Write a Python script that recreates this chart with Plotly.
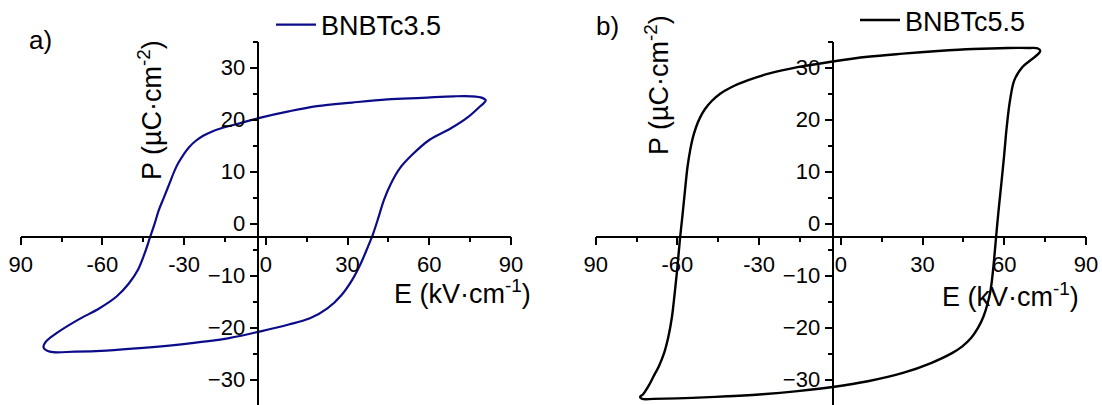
import plotly.graph_objects as go

# BNBTc3.5 hysteresis loop: (E in kV/cm, P in uC/cm^2), traced around the loop
e_35 = [80.7, 79.4, 75.5, 69, 57.4, 44.6, 31.7, 18.8, 8.4, -1.9, -9.6, -15.5, -19.9, -23,
        -25.8, -28.2, -30.2, -32, -33.5, -35.4, -37.3, -39.3, -40.8, -42.5, -44.5, -47,
        -50.3, -54.8, -61.2, -69, -76.7, -80.6, -81.6,
        -79.3, -70, -58.6, -45, -32.8, -13.5, -1.9, 8.4, 16.2, 22.6, 27.8, 31.7, 34.9,
        37.5, 39.4, 41.4, 43.3, 45.9, 49.1, 53.6, 60, 67.8, 74.2, 78.1, 80.7]
p_35 = [23.7, 24.2, 24.5, 24.5, 24.2, 23.9, 23.3, 22.6, 21.6, 20.4, 19.3, 18.5, 17.7, 16.9,
        15.9, 14.7, 13.3, 11.8, 10.2, 7.7, 5.2, 2.6, 0.06, -2.6, -5.7, -8.9,
        -11.5, -14, -16.3, -18.5, -21, -22.6, -23.8,
        -24.6, -24.6, -24.4, -23.9, -23.3, -22, -20.7, -19.4, -18.2, -16.3, -13.7, -10.8, -7.6,
        -4.4, -1.9, 1.3, 4.5, 7.7, 10.6, 13.2, 16.1, 18.3, 20.5, 22.3, 23.7]

# BNBTc5.5 hysteresis loop
e_55 = [73.2, 72.4, 69.2, 61.4, 48.5, 35.6, 22.8, 9.9, -3, -15.9, -26.2, -34, -40.4, -44.3,
        -47.4, -49.8, -51.7, -53.2, -54.4, -55.3, -56.3, -57.2, -58.2, -59.1, -60, -61, -62,
        -63.3, -64.9, -66.8, -68.8, -70.7, -72.6, -73.7,
        -72.9, -68.8, -54.6, -41.7, -28.8, -15.9, -3, 9.9, 22.8, 33.1, 40.8, 44.6, 47.8,
        50.4, 52.4, 53.9, 55, 56, 56.9, 57.8, 58.8, 59.9, 60.9, 62.1, 63.7, 66.6, 69.8, 72.4, 73.2]
p_55 = [33.2, 33.7, 33.8, 33.8, 33.6, 33.2, 32.7, 32.1, 31.2, 30.1, 28.9, 27.6, 26.2, 25,
        23.6, 22.1, 20.4, 18.5, 16.4, 14.2, 10.9, 6.5, 1.3, -3.1, -8.3, -13.4, -17.9,
        -21.7, -24.9, -27.4, -29.4, -31.3, -32.8, -33.3,
        -33.7, -33.7, -33.5, -33.2, -32.8, -32.2, -31.4, -30.3, -28.7, -26.8, -24.9, -23.6, -22,
        -20, -17.8, -15.3, -12.7, -8.3, -3.1, 2, 7.1, 12.9, 18.6, 23.7, 27.6, 30.1, 31.5, 32.6, 33.2]

x_tickvals = [-90, -60, -30, 0, 30, 60, 90]
x_ticktext = ["90", "-60", "-30", "0", "30", "60", "90"]
y_tickvals = [-30, -20, -10, 0, 10, 20, 30]

FONT = "Liberation Sans, Arial, sans-serif"
W, H = 1102, 405

fig = go.Figure()
fig.add_trace(go.Scatter(x=e_35, y=p_35, mode="lines", name="BNBTc3.5", showlegend=True,
                         line=dict(color="#0c0c8a", width=2.2, shape="spline", smoothing=1.0),
                         xaxis="x", yaxis="y", legend="legend"))
fig.add_trace(go.Scatter(x=e_55, y=p_55, mode="lines", name="BNBTc5.5", showlegend=True,
                         line=dict(color="#000000", width=2.4, shape="spline", smoothing=1.0),
                         xaxis="x2", yaxis="y2", legend="legend2"))


def xax(domain, ypos):
    return dict(domain=domain, range=[-90, 90], anchor="free", position=ypos,
                automargin=False,
                showline=True, linecolor="black", linewidth=1.5,
                ticks="outside", ticklen=8, tickwidth=1.5, tickcolor="black",
                tickvals=x_tickvals, ticktext=x_ticktext,
                tickfont=dict(family=FONT, size=22, color="black"),
                minor=dict(dtick=15, tick0=0, ticks="outside", ticklen=5, tickwidth=1.5,
                           tickcolor="black"),
                showgrid=False, zeroline=False)


def yax(xpos):
    return dict(domain=[0, 1 - 41.7 / H], range=[-34.87, 35], anchor="free", position=xpos,
                automargin=False,
                showline=True, linecolor="black", linewidth=1.5,
                ticks="outside", ticklen=8, tickwidth=1.5, tickcolor="black",
                tickvals=y_tickvals,
                tickfont=dict(family=FONT, size=22, color="black"),
                minor=dict(dtick=5, tick0=0, ticks="outside", ticklen=5, tickwidth=1.5,
                           tickcolor="black"),
                showgrid=False, zeroline=False)


def legend_box(x, y):
    return dict(x=x / W, y=1 - y / H, xanchor="left", yanchor="middle",
                bgcolor="rgba(0,0,0,0)", font=dict(family=FONT, size=27, color="black"),
                itemwidth=40)


xpos_axis = 1 - 236.5 / H
fig.update_layout(
    width=W, height=H,
    margin=dict(l=0, r=0, t=0, b=0, autoexpand=False),
    showlegend=True,
    paper_bgcolor="white", plot_bgcolor="rgba(0,0,0,0)",
    font=dict(family=FONT, color="black"),
    xaxis=xax([20.7 / W, 511 / W], xpos_axis),
    yaxis=yax(258.3 / W),
    xaxis2=xax([595.7 / W, 1086 / W], xpos_axis),
    yaxis2=yax(833.3 / W),
    legend=legend_box(271, 25),
    legend2=legend_box(855, 20.5),
)


def note(text, x, y, angle=0, size=27):
    fig.add_annotation(text=text, x=x / W, y=1 - y / H, xref="paper", yref="paper",
                       xanchor="center", yanchor="middle", showarrow=False,
                       textangle=angle, font=dict(family=FONT, size=size, color="black"))


note("a)", 40, 40, size=26)
note("b)", 607, 26, size=26)
note("E (kV·cm<sup>-1</sup>)", 462, 292)
note("E (kV·cm<sup>-1</sup>)", 1010, 295)
note("P (µC·cm<sup>-2</sup>)", 150, 110, angle=-90)
note("P (µC·cm<sup>-2</sup>)", 657, 85, angle=-90)

fig.write_html("out.html")
